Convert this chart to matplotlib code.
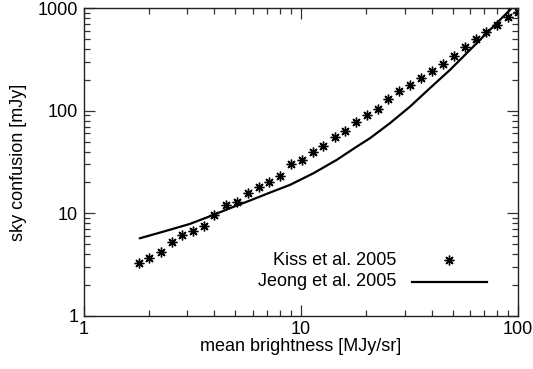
import numpy as np
import matplotlib
matplotlib.use("Agg")
import matplotlib.pyplot as plt
from matplotlib.ticker import LogLocator, NullFormatter, FixedFormatter, FixedLocator

plt.rcParams['font.family'] = ['Liberation Sans', 'DejaVu Sans']

# Kiss et al. 2005 measurements (mean brightness [MJy/sr], sky confusion [mJy])
kiss_brightness = [1.79, 2.00, 2.27, 2.54, 2.85, 3.19, 3.58, 4.00, 4.51, 5.08,
                   5.68, 6.40, 7.15, 8.03, 9.01, 10.07, 11.35, 12.7, 14.3, 16.0,
                   17.9, 20.1, 22.6, 25.3, 28.4, 31.9, 35.9, 40.3, 45.1, 50.6,
                   56.8, 64.0, 71.5, 80.3, 90.2, 99.5]
kiss_confusion = [3.26, 3.70, 4.18, 5.30, 6.11, 6.79, 7.60, 9.73, 12.0, 13.0,
                  15.9, 18.1, 20.3, 23.2, 29.9, 32.7, 40.0, 45.1, 56.0, 63.1,
                  77.3, 90.4, 103.5, 128.6, 153.9, 177.4, 207.6, 246.5, 286.3, 342.9,
                  413.3, 498.0, 583.0, 687.0, 817.0, 910.0]

# Jeong et al. 2005 model curve
jeong_brightness = [1.81, 2.32, 3.08, 3.94, 4.71, 5.82, 7.20, 8.90, 11.4, 14.6,
                    18.1, 20.8, 25.7, 31.8, 39.3, 48.6, 60.1, 66.8, 82.6, 91.8,
                    100.0]
jeong_confusion = [5.70, 6.61, 7.87, 9.6, 11.2, 13.3, 15.9, 18.9, 24.5, 33.1,
                   44.7, 53.9, 75.5, 109.6, 166.0, 250.0, 392.0, 491.0, 769.0, 962.0,
                   1150.0]

FONT = 13

fig = plt.figure(figsize=(5.33, 3.69), dpi=100)
ax = fig.add_axes([0.157, 0.144, 0.815, 0.834])

ax.plot(jeong_brightness, jeong_confusion, color='black', lw=1.6,
        solid_capstyle='round', solid_joinstyle='round')
ax.plot(kiss_brightness, kiss_confusion, linestyle='none', marker=(8, 2, 0),
        markersize=7, markeredgewidth=1.0, color='black')

ax.set_xscale('log')
ax.set_yscale('log')
ax.set_xlim(1, 100)
ax.set_ylim(1, 1000)

ax.xaxis.set_major_locator(FixedLocator([1, 10, 100]))
ax.xaxis.set_major_formatter(FixedFormatter(['1', '10', '100']))
ax.yaxis.set_major_locator(FixedLocator([1, 10, 100, 1000]))
ax.yaxis.set_major_formatter(FixedFormatter(['1', '10', '100', '1000']))
for axis in (ax.xaxis, ax.yaxis):
    axis.set_minor_locator(LogLocator(base=10, subs=np.arange(2, 10)))
    axis.set_minor_formatter(NullFormatter())

ax.tick_params(which='both', direction='in', top=True, right=True,
               color='#333333', width=0.9, labelsize=FONT)
ax.tick_params(which='major', length=8, pad=4)
ax.tick_params(which='minor', length=4)
for sp in ax.spines.values():
    sp.set_linewidth(1.0)
    sp.set_color('#222222')

ax.set_xlabel('mean brightness [MJy/sr]', fontsize=FONT, labelpad=0)
ax.set_ylabel('sky confusion [mJy]', fontsize=FONT, labelpad=8)

# legend: right-aligned labels followed by their symbols
ax.text(0.720, 0.180, 'Kiss et al. 2005', transform=ax.transAxes,
        ha='right', va='center', fontsize=FONT)
ax.text(0.720, 0.111, 'Jeong et al. 2005', transform=ax.transAxes,
        ha='right', va='center', fontsize=FONT)
ax.plot([0.841], [0.180], transform=ax.transAxes, linestyle='none',
        marker=(8, 2, 0), markersize=7, markeredgewidth=1.0, color='black')
ax.plot([0.755, 0.928], [0.111, 0.111], transform=ax.transAxes,
        color='black', lw=1.6)

fig.savefig('out.png', dpi=100)
